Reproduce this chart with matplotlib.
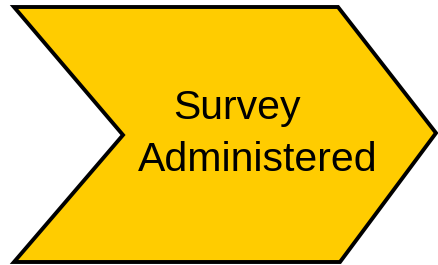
import matplotlib
matplotlib.use("Agg")
import matplotlib.pyplot as plt
from matplotlib.patches import Polygon

# chevron outline (pixel coords of the picture)
shape_x = [14, 338, 436, 340, 14, 123]
shape_y = [7, 7, 133, 262, 262, 135]
labels = ["Survey", "Administered"]
label_x = [237, 258]
label_y = [108, 160]

fig = plt.figure(figsize=(4.38, 2.65), dpi=100)
ax = fig.add_axes([0, 0, 1, 1])
ax.set_xlim(0, 438)
ax.set_ylim(265, 0)
ax.axis("off")

ax.add_patch(Polygon(list(zip(shape_x, shape_y)), closed=True,
                     facecolor="#FFCC00", edgecolor="black", linewidth=2.8,
                     joinstyle="miter"))

for t, x, y in zip(labels, label_x, label_y):
    ax.text(x, y, t, ha="center", va="center", fontsize=29.5,
            family="Liberation Sans", color="black")

plt.savefig("out.png", dpi=100)
